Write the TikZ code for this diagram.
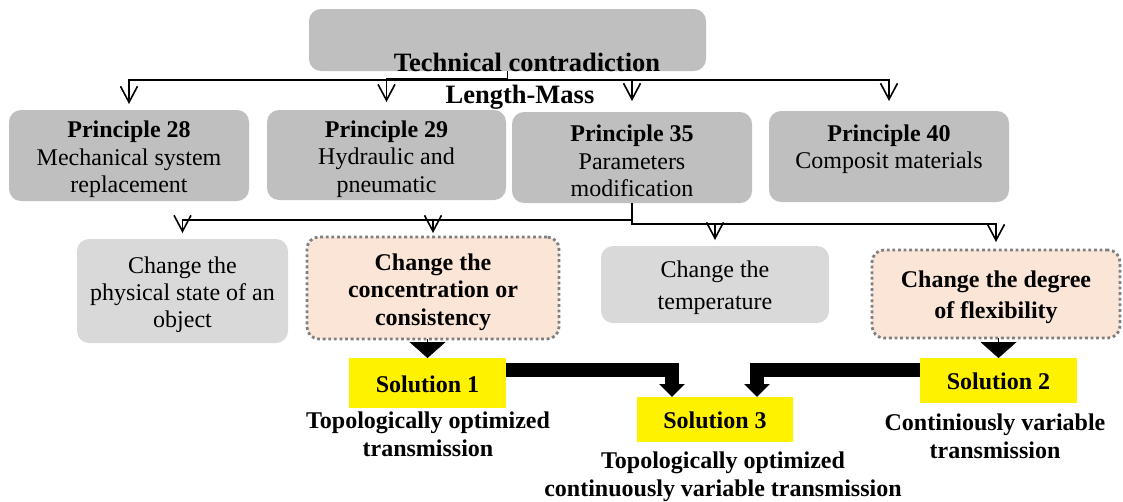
\documentclass[tikz,border=0pt]{standalone}
\usepackage{fontspec}
\setmainfont{Liberation Serif}
\usetikzlibrary{arrows.meta}
\definecolor{boxgray}{HTML}{BFBFBF}
\definecolor{lightgraybox}{HTML}{D9D9D9}
\definecolor{peach}{HTML}{FBE5D6}
\definecolor{dotgray}{HTML}{7F7F7F}
\newcommand{\mytopstrut}[1]{\rule{0pt}{#1}}
\begin{document}
\begin{tikzpicture}[x=1pt,y=-1pt,
  every node/.style={inner sep=0pt, outer sep=0pt},
  pbox/.style={rounded corners=12pt, fill=boxgray, align=center, font=\fontsize{24}{27.5}\selectfont},
  cbox/.style={rounded corners=12pt, fill=lightgraybox, align=center, font=\fontsize{24}{27}\selectfont},
  dbox/.style={rounded corners=12pt, fill=peach, draw=dotgray, line width=2.8pt, dash pattern=on 2.8pt off 2.8pt, align=center, font=\bfseries\fontsize{24}{27.5}\selectfont},
  sol/.style={fill=yellow, font=\bfseries\fontsize{24}{28}\selectfont},
  lbl/.style={align=center, font=\bfseries\fontsize{24}{28}\selectfont},
  ttl/.style={font=\bfseries\fontsize{26.5}{30}\selectfont},
  varr/.style={line width=1.6pt, -{Straight Barb[length=16pt,width=17pt]}},
  fat/.style={line width=14pt, -{Triangle[length=13pt,width=25pt]}},
  tri/.style={line width=0.4pt, -{Triangle[length=16pt,width=36pt]}}
]
\useasboundingbox (0,0) rectangle (1123,501);

% top box and title
\node[pbox, minimum width=397pt, minimum height=62pt] (tc) at (507.5,40) {};
\node[ttl, anchor=base] (ttl1) at (527,71) {Technical contradiction};
\node[ttl, anchor=base] (ttl2) at (520,103) {Length-Mass};

% principles
\node[pbox, minimum width=240pt, minimum height=91pt] (p28) at (129,155.5) {\mytopstrut{25pt}\textbf{Principle 28}\\Mechanical system\\replacement};
\node[pbox, minimum width=239pt, minimum height=90pt] (p29) at (386.5,155) {\mytopstrut{25pt}\textbf{Principle 29}\\Hydraulic and\\pneumatic};
\node[pbox, minimum width=240pt, minimum height=91pt] (p35) at (632,157.5) {\mytopstrut{24pt}\textbf{Principle 35}\\Parameters\\modification};
\node[pbox, minimum width=240pt, minimum height=91pt] (p40) at (889,156.5) {\mytopstrut{24pt}\textbf{Principle 40}\\Composit materials\\\mbox{}};

% changes
\node[cbox, minimum width=211pt, minimum height=104pt] (phys) at (182.5,291) {\mytopstrut{25pt}Change the\\physical state of an\\object};
\node[dbox, minimum width=252pt, minimum height=102pt] (conc) at (433,288) {\mytopstrut{25pt}Change the\\concentration or\\consistency};
\node[cbox, minimum width=228pt, minimum height=77pt] (temp) at (715,284.5) {\mytopstrut{23pt}Change the\\[5pt]temperature};
\node[dbox, minimum width=248pt, minimum height=88pt] (flex) at (996,294) {\mytopstrut{23pt}Change the degree\\[4pt]of flexibility};

% solutions
\node[sol, minimum width=157pt, minimum height=50pt] (s1) at (427.5,383) {\mytopstrut{20pt}Solution 1};
\node[sol, minimum width=157pt, minimum height=45pt] (s2) at (998.5,380.5) {\mytopstrut{19pt}Solution 2};
\node[sol, minimum width=156pt, minimum height=45pt] (s3) at (715,419.5) {\mytopstrut{19pt}Solution 3};

\node[lbl] (l1) at (428,434) {Topologically optimized\\transmission};
\node[lbl] (l2) at (995,436) {Continiously variable\\transmission};
\node[lbl] (l3) at (723,477) {Topologically optimized\\continuously variable transmission};

% connectors from the top box
\draw[varr, shorten >=6pt] (tc.south) -- ++(0,9) -| (p28.north);
\draw[varr, shorten >=8pt] (tc.south) -- ++(0,8) -| (p29.north);
\draw[varr, shorten >=11pt] (tc.south) -- ++(0,9) -| (p35.north);
\draw[varr, shorten >=10pt] (tc.south) -- ++(0,9) -| (p40.north);

% connectors from principle 35
\draw[varr, shorten >=6pt] (p35.south) -- ++(0,17) -| (phys.north);
\draw[varr, shorten >=4pt] (p35.south) -- ++(0,17) -| (conc.north);
\draw[varr, shorten >=6pt] (p35.south) -- ++(0,21) -| (temp.north);
\draw[varr, shorten >=8pt] (p35.south) -- ++(0,21) -| (flex.north);

% to solutions
\draw[tri] (conc.south -| s1.north) -- (s1.north);
\draw[tri] (flex.south -| s2.north) -- (s2.north);
\draw[fat] ([yshift=13pt]s1.east) -| ([xshift=-43pt]s3.north);
\draw[fat] ([yshift=10.5pt]s2.west) -| ([xshift=42pt]s3.north);
\end{tikzpicture}
\end{document}
